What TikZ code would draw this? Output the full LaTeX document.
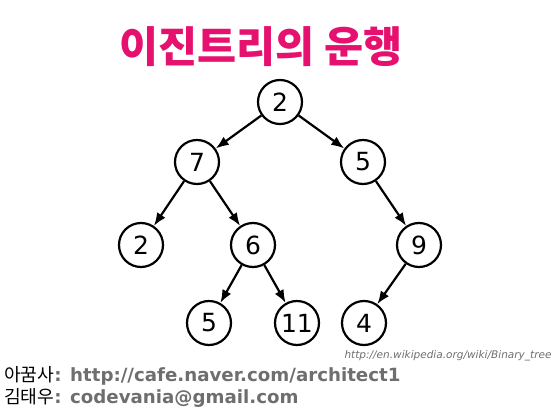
\documentclass[tikz,border=0pt]{standalone}
\usepackage{fontspec}
\setmainfont{DejaVu Sans}
\newfontfamily\krfont{Noto Sans CJK KR}
\usetikzlibrary{arrows.meta}
\definecolor{titlepink}{RGB}{230,16,110}
\definecolor{footgray}{RGB}{110,110,110}
\tikzset{
  treenode/.style={draw,circle,line width=2.2pt,minimum size=44pt,inner sep=0pt,
    font=\fontsize{25}{25}\selectfont},
  treeedge/.style={draw,line width=2.2pt,-{Latex[length=13pt,width=10pt]}}
}
\begin{document}
\begin{tikzpicture}[x=1pt,y=-1pt]
  \useasboundingbox (0,0) rectangle (560,420);
  \node[text=titlepink,font=\krfont\bfseries\fontsize{42.5}{42.5}\selectfont] (title) at (261,47) {이진트리의 운행};
      \def \Nodes{
        n1/280/102/2,
        n2/197/162/7,
        n3/363/162/5,
        n4/141/245/2,
        n5/253/245/6,
        n6/419/245/9,
        n7/209/323/5,
        n8/297/323/11,
        n9/364/323/4}
      \def \Edges{
        n1/n2, n1/n3, n2/n4, n2/n5, n3/n6, n5/n7, n5/n8, n6/n9}
      \foreach \id / \x / \y / \val in \Nodes{
        \node[treenode] (\id) at (\x, \y) {\val};
      }
      \foreach \x / \y in \Edges{
        \path[treeedge] (\x) -- (\y);
      }
  \node[anchor=east,text=footgray,font=\itshape\fontsize{10.5}{10.5}\selectfont] (source) at (555,356) {http://en.wikipedia.org/wiki/Binary\_tree};
  \node[anchor=west,inner sep=0pt,font=\fontsize{18.2}{18.2}\selectfont] (cafe) at (4,376) {{\krfont 아꿈사}{\bfseries\color{footgray}: http://cafe.naver.com/architect1}};
  \node[anchor=west,inner sep=0pt,font=\fontsize{18.2}{18.2}\selectfont] (mail) at (4,398) {{\krfont 김태우}{\bfseries\color{footgray}: codevania@gmail.com}};
\end{tikzpicture}
\end{document}
